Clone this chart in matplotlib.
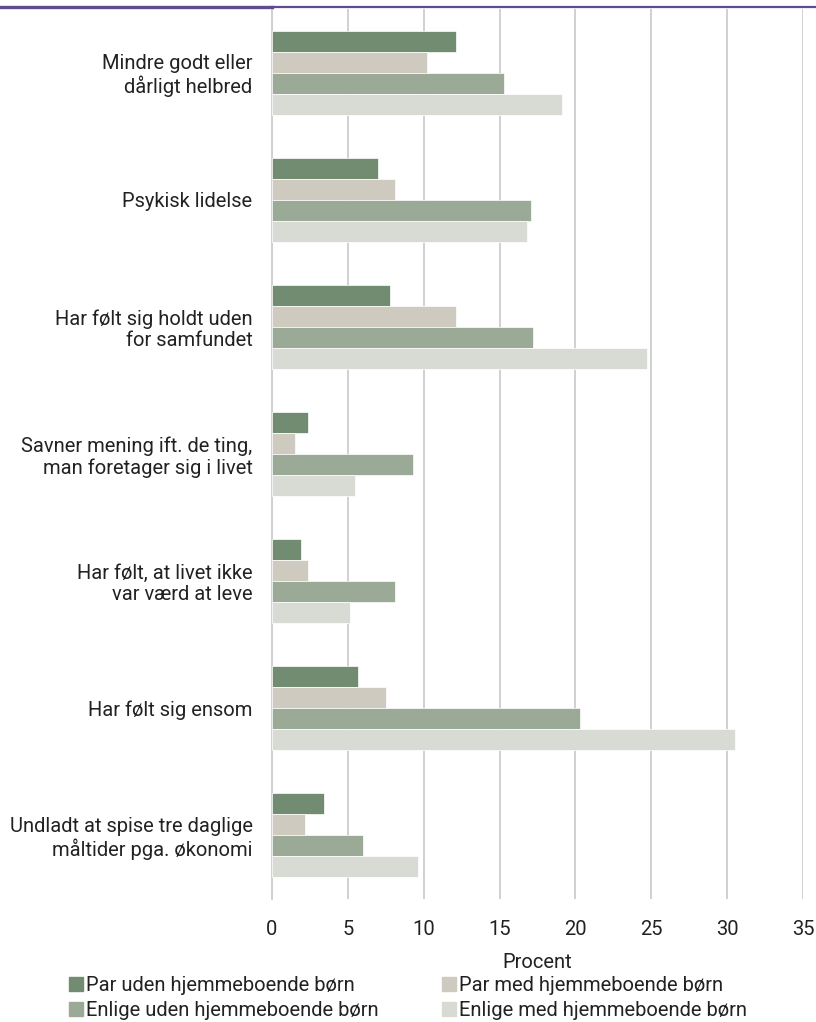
import numpy as np
import matplotlib
matplotlib.use("Agg")
import matplotlib.pyplot as plt
from matplotlib.lines import Line2D

plt.rcParams['font.family'] = ['Roboto', 'DejaVu Sans']

categories = [
    "Mindre godt eller\ndårligt helbred",
    "Psykisk lidelse",
    "Har følt sig holdt uden\nfor samfundet",
    "Savner mening ift. de ting,\nman foretager sig i livet",
    "Har følt, at livet ikke\nvar værd at leve",
    "Har følt sig ensom",
    "Undladt at spise tre daglige\nmåltider pga. økonomi",
]

series_names = [
    "Par uden hjemmeboende børn",
    "Par med hjemmeboende børn",
    "Enlige uden hjemmeboende børn",
    "Enlige med hjemmeboende børn",
]

par_uden = [12.1, 7.0, 7.8, 2.4, 1.9, 5.7, 3.4]
par_med = [10.2, 8.1, 12.1, 1.5, 2.35, 7.5, 2.2]
enlige_uden = [15.3, 17.1, 17.2, 9.3, 8.1, 20.3, 6.0]
enlige_med = [19.1, 16.8, 24.7, 5.5, 5.15, 30.5, 9.6]

colors = ["#728C72", "#CECAC0", "#9AAA96", "#D8DBD4"]
text_col = "#222222"
fs = 14.5

fig = plt.figure(figsize=(8.16, 10.22), dpi=100)
ax = fig.add_axes([272 / 816, 1 - 899 / 1022, 531 / 816, 890 / 1022])

y = np.arange(len(categories))
h = 0.165
all_series = [par_uden, par_med, enlige_uden, enlige_med]
handles = []
for i, (vals, col, name) in enumerate(zip(all_series, colors, series_names)):
    ax.barh(y + (i - 1.5) * h, vals, height=h, color=col,
            edgecolor="white", linewidth=0.5, zorder=3)
    handles.append(Line2D([], [], marker="s", linestyle="none", markersize=9.5,
                          markerfacecolor=col, markeredgecolor=col, label=name))

ax.set_xlim(0, 35)
ax.set_ylim(len(categories) - 0.5, -0.5)
ax.set_xticks(np.arange(0, 36, 5))
ax.set_yticks(y)
ax.set_yticklabels(categories, fontsize=fs, color=text_col, linespacing=1.15)
ax.tick_params(axis="both", length=0)
ax.tick_params(axis="y", pad=14)
ax.tick_params(axis="x", pad=15, labelsize=fs, labelcolor=text_col)
ax.grid(axis="x", color="#d0d0d0", linewidth=1.4, zorder=0)
for s in ["top", "right", "bottom"]:
    ax.spines[s].set_visible(False)
ax.spines["left"].set_color("#d0d0d0")
ax.spines["left"].set_linewidth(1.4)
ax.set_xlabel("Procent", fontsize=fs, color=text_col, labelpad=10)

# purple rule across the top
fig.add_artist(Line2D([0, 272 / 816], [1 - 7 / 1022] * 2, color="#5E4C8C",
                      linewidth=2.4, transform=fig.transFigure))
fig.add_artist(Line2D([272 / 816, 1], [1 - 7 / 1022] * 2, color="#5E4C8C",
                      linewidth=1.6, transform=fig.transFigure))

order = [0, 2, 1, 3]
fig.legend([handles[k] for k in order], [series_names[k] for k in order],
           ncol=2, loc="upper left", bbox_to_anchor=(70 / 816, 1 - 976 / 1022),
           frameon=False, fontsize=fs, handlelength=0.6, handletextpad=0.2,
           columnspacing=3.2, labelspacing=0.3, borderpad=0, borderaxespad=0,
           labelcolor=text_col)

fig.savefig("out.png", dpi=100)
